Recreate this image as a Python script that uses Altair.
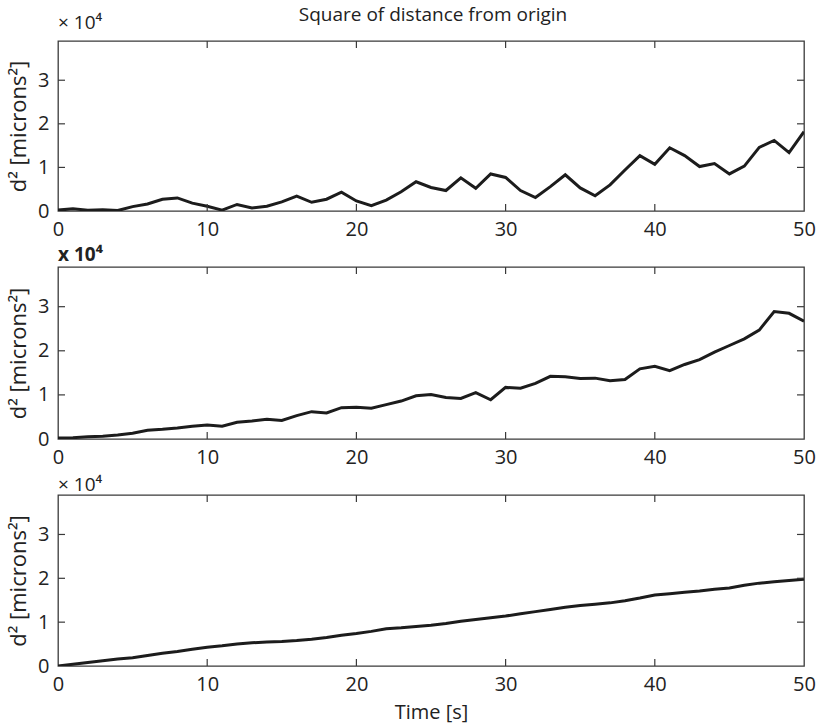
import altair as alt
import pandas as pd

# ---------------- data (values in units of 10^4 microns^2) ----------------
time_s = list(range(51))

d2_trace1 = [0.02, 0.05, 0.02, 0.03, 0.01, 0.10, 0.16, 0.27, 0.30, 0.18,
             0.11, 0.02, 0.15, 0.07, 0.11, 0.21, 0.34, 0.20, 0.27, 0.43,
             0.23, 0.12, 0.25, 0.44, 0.67, 0.54, 0.47, 0.76, 0.52, 0.85,
             0.77, 0.47, 0.31, 0.56, 0.83, 0.53, 0.35, 0.60, 0.94, 1.27,
             1.07, 1.45, 1.27, 1.02, 1.09, 0.85, 1.03, 1.46, 1.62, 1.34,
             1.82]

d2_trace2 = [0.02, 0.03, 0.05, 0.06, 0.09, 0.13, 0.20, 0.22, 0.25, 0.29,
             0.32, 0.29, 0.38, 0.41, 0.45, 0.42, 0.53, 0.62, 0.59, 0.71,
             0.72, 0.70, 0.78, 0.86, 0.98, 1.01, 0.94, 0.92, 1.05, 0.89,
             1.17, 1.15, 1.26, 1.42, 1.41, 1.37, 1.38, 1.32, 1.35, 1.59,
             1.65, 1.55, 1.69, 1.80, 1.97, 2.12, 2.27, 2.47, 2.89, 2.85,
             2.67]

d2_trace3 = [0.00, 0.04, 0.08, 0.12, 0.16, 0.19, 0.24, 0.29, 0.33, 0.38,
             0.43, 0.46, 0.50, 0.53, 0.55, 0.56, 0.58, 0.61, 0.65, 0.70,
             0.74, 0.79, 0.85, 0.87, 0.90, 0.93, 0.97, 1.02, 1.06, 1.10,
             1.14, 1.19, 1.24, 1.29, 1.34, 1.38, 1.41, 1.44, 1.49, 1.55,
             1.62, 1.65, 1.68, 1.71, 1.75, 1.78, 1.84, 1.89, 1.92, 1.95,
             1.98]

x_tick_values = [0, 10, 20, 30, 40, 50]
y_tick_values = [0, 1, 2, 3]
inner_x_ticks = [10, 20, 30, 40]
inner_y_ticks = [1, 2, 3]

main_title = "Square of distance from origin"
y_title = "d² [microns²]"
x_title = "Time [s]"
exponent_labels = ["× 10⁴", "x 10⁴", "× 10⁴"]

# ---------------- styling ----------------
FONT = "Open Sans"
TXT = "#222222"
LINE = "#1c1c1c"
FRAME = "#3a3a3a"
W = 746
TICK = 7


def panel(values, height, exp_text, exp_y, exp_weight, show_xtitle, with_main_title=False):
    df = pd.DataFrame({"t": time_s, "d": values})
    xs = alt.Scale(domain=[0, 50], nice=False, zero=False)
    ys = alt.Scale(domain=[0, 3.9], nice=False, zero=False)

    xaxis_kw = dict(values=x_tick_values, ticks=False, domain=False, grid=False,
                    labelFlush=False, labelPadding=8, labelFontSize=20,
                    labelFont=FONT, labelColor=TXT)
    if show_xtitle:
        xaxis_kw.update(title=x_title, titleFontSize=20, titleFont=FONT,
                        titleFontWeight="normal", titlePadding=8, titleColor=TXT)
    else:
        xaxis_kw.update(title="")
    xaxis = alt.Axis(**xaxis_kw)
    yaxis = alt.Axis(values=y_tick_values, ticks=False, domain=False, grid=False,
                     labelFlush=False, labelPadding=9, labelFontSize=20,
                     labelFont=FONT, labelColor=TXT,
                     title=y_title, titleFontSize=22, titleFont=FONT,
                     titleFontWeight="normal", titlePadding=7, titleColor=TXT)

    line = alt.Chart(df).mark_line(color=LINE, strokeWidth=3, clip=True).encode(
        x=alt.X("t:Q", scale=xs, axis=xaxis),
        y=alt.Y("d:Q", scale=ys, axis=yaxis),
    )

    xt = pd.DataFrame({"t": inner_x_ticks})
    yt = pd.DataFrame({"d": inner_y_ticks})
    bottom_ticks = alt.Chart(xt).mark_rule(color=FRAME, strokeWidth=1.2).encode(
        x=alt.X("t:Q", scale=xs, axis=xaxis), y=alt.value(height), y2=alt.value(height - TICK))
    top_ticks = alt.Chart(xt).mark_rule(color=FRAME, strokeWidth=1.2).encode(
        x=alt.X("t:Q", scale=xs, axis=xaxis), y=alt.value(0), y2=alt.value(TICK))
    left_ticks = alt.Chart(yt).mark_rule(color=FRAME, strokeWidth=1.2).encode(
        y=alt.Y("d:Q", scale=ys, axis=yaxis), x=alt.value(0), x2=alt.value(TICK))
    right_ticks = alt.Chart(yt).mark_rule(color=FRAME, strokeWidth=1.2).encode(
        y=alt.Y("d:Q", scale=ys, axis=yaxis), x=alt.value(W), x2=alt.value(W - TICK))

    one = pd.DataFrame({"k": [0]})
    exp_label = alt.Chart(one).mark_text(
        text=exp_text, align="left", baseline="alphabetic", fontSize=19,
        font=FONT, color=TXT, fontWeight=exp_weight,
    ).encode(x=alt.value(0), y=alt.value(exp_y))

    layers = [line, bottom_ticks, top_ticks, left_ticks, right_ticks, exp_label]
    if with_main_title:
        ttl = alt.Chart(one).mark_text(
            text=main_title, align="center", baseline="top", fontSize=19,
            font=FONT, color=TXT,
        ).encode(x=alt.value(W / 2 + 2), y=alt.value(-35))
        layers.append(ttl)

    return alt.layer(*layers).properties(width=W, height=height)


p1 = panel(d2_trace1, 170, exponent_labels[0], -12, "normal", False, with_main_title=True)
p2 = panel(d2_trace2, 172, exponent_labels[1], -6, "bold", False)
p3 = panel(d2_trace3, 171, exponent_labels[2], -4, "normal", True)

chart = alt.vconcat(p1, p2, p3, spacing=56, bounds="flush").properties(
    padding={"left": 6, "top": 5, "right": 4, "bottom": 2},
    background="white",
).configure_view(
    stroke=FRAME, strokeWidth=1.3
)

chart.save("out.html", embed_options={"renderer": "svg", "actions": False})
